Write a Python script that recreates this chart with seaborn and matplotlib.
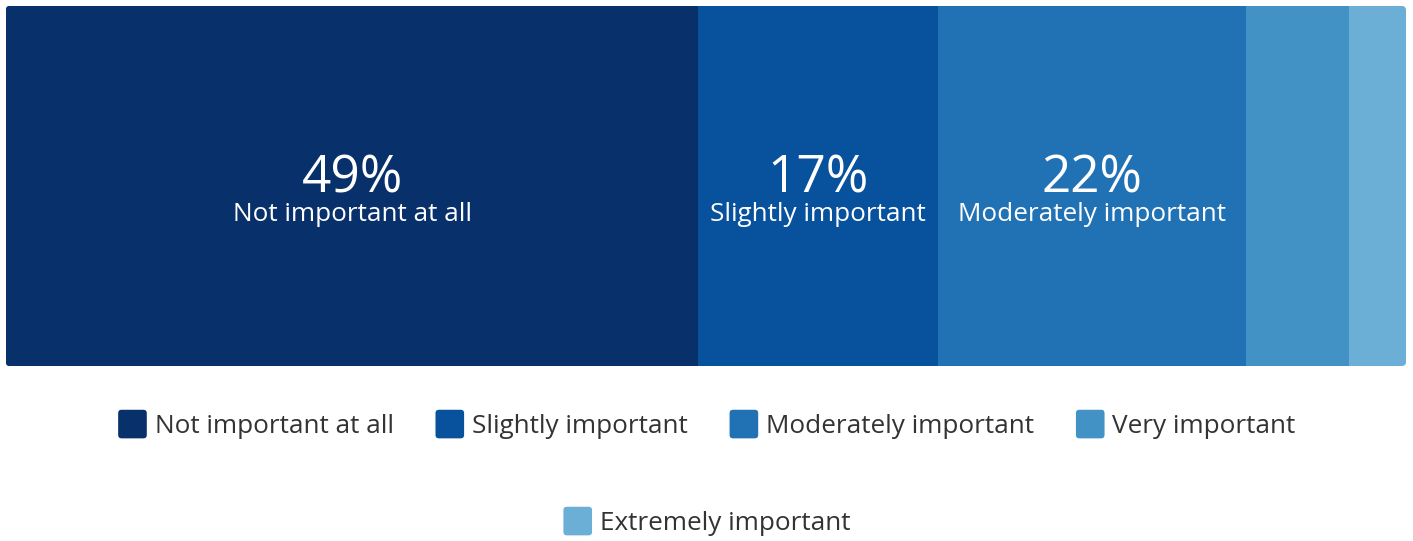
import matplotlib
matplotlib.use("Agg")
import matplotlib.pyplot as plt
import seaborn as sns
import numpy as np
import pandas as pd
from matplotlib.patches import FancyBboxPatch, Patch
from matplotlib.legend_handler import HandlerPatch

categories = ["Not important at all", "Slightly important", "Moderately important",
              "Very important", "Extremely important"]
values = [49.4, 17.1, 22.0, 7.3, 4.1]
colors = ["#08306b", "#08519c", "#2171b5", "#4292c6", "#6baed6"]

sns.set_theme(style="white")
plt.rcParams["font.family"] = ["Open Sans", "DejaVu Sans"]

W, H = 1413, 541
fig = plt.figure(figsize=(W / 100, H / 100), dpi=100)
ax = fig.add_axes([6 / W, (H - 366) / H, 1400 / W, 360 / H])

cum = np.cumsum(values)
total = cum[-1]
row = ["r"]
for i in range(len(values) - 1, -1, -1):
    df = pd.DataFrame({"v": [cum[i]], "r": row})
    sns.barplot(data=df, x="v", y="r", orient="h", width=1.0, color=colors[i],
                saturation=1, ax=ax, linewidth=0, edgecolor="none")

ax.set_xlim(0, total)
ax.set_ylim(0.5, -0.5)
ax.axis("off")

# rounded clip
clip = FancyBboxPatch((0, 0), 1, 1, boxstyle="round,pad=0,rounding_size=0.003",
                      mutation_aspect=1400 / 360, transform=ax.transAxes,
                      facecolor="none", edgecolor="none")
ax.add_patch(clip)
for p in ax.patches:
    if p is not clip:
        p.set_clip_path(clip)

starts = np.concatenate([[0], cum[:-1]])
for s, v, c in zip(starts, values, categories):
    if v >= 10:
        xc = (s + v / 2) / total
        ax.text(xc, 0.483, f"{round(v):.0f}%", transform=ax.transAxes, ha="center",
                va="baseline", color="white", fontsize=37)
        ax.text(xc, 0.403, c, transform=ax.transAxes, ha="center",
                va="baseline", color="white", fontsize=18.8)

# legend
def make_patch(legend, orig_handle, xdescent, ydescent, width, height, fontsize):
    side = 30 * 72 / 100
    y0 = -ydescent + (height - side) / 2
    return FancyBboxPatch((-xdescent, y0), width, side,
                          boxstyle="round,pad=0,rounding_size=3",
                          facecolor=orig_handle.get_facecolor(), edgecolor="none")

handles = [Patch(facecolor=c, label=l) for c, l in zip(colors, categories)]
hmap = {Patch: HandlerPatch(patch_func=make_patch)}
fs = 18.8
common = dict(frameon=False, fontsize=fs, handlelength=1.15, handleheight=1.15,
              handletextpad=0.27, columnspacing=1.58, labelcolor="#333333",
              handler_map=hmap, borderpad=0, borderaxespad=0)
leg1 = fig.legend(handles=handles[:4], loc="center", ncol=4,
                  bbox_to_anchor=(0.5, 1 - 425 / H), **common)
leg2 = fig.legend(handles=handles[4:], loc="center", ncol=1,
                  bbox_to_anchor=(0.5, 1 - 522 / H), **common)

fig.savefig("out.png", dpi=100)
